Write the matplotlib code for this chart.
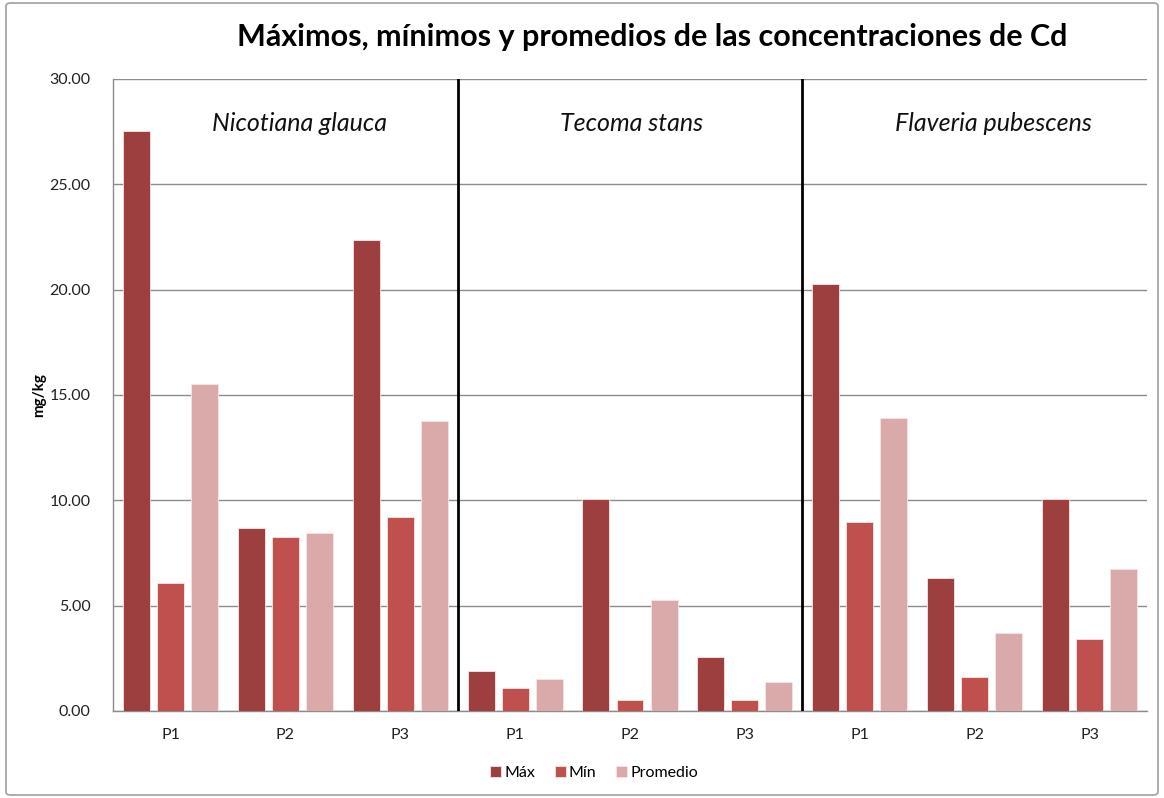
import matplotlib
matplotlib.use("Agg")
import matplotlib.pyplot as plt
from matplotlib.patches import FancyBboxPatch
import numpy as np

plt.rcParams['font.family'] = ['Lato', 'DejaVu Sans']

species = ["Nicotiana glauca", "Tecoma stans", "Flaveria pubescens"]
points = ["P1", "P2", "P3"]
categories = points * 3

maximo = [27.55, 8.70, 22.35, 1.90, 10.05, 2.55, 20.27, 6.31, 10.06]
minimo = [6.08, 8.26, 9.21, 1.10, 0.52, 0.52, 8.97, 1.61, 3.43]
promedio = [15.52, 8.45, 13.76, 1.54, 5.27, 1.40, 13.91, 3.72, 6.72]

series_names = ["Máx", "Mín", "Promedio"]
colors = ["#9E3F3F", "#C0504D", "#DAA9A9"]

fig = plt.figure(figsize=(11.64, 7.98), dpi=100)
ax = fig.add_axes([113/1164, 1-711/798, (1147-113)/1164, (711-79)/798])

# outer border
fig.patches.append(FancyBboxPatch((6/1164, 3/798), 1152/1164, 792/798,
                                  boxstyle="round,pad=0,rounding_size=0.004",
                                  transform=fig.transFigure, fill=False,
                                  edgecolor="#A6A6A6", linewidth=1.3))

x = np.arange(len(categories))
w = 0.235
step = 0.296
for i, (vals, name, c) in enumerate(zip([maximo, minimo, promedio], series_names, colors)):
    ax.bar(x + (i-1)*step, vals, width=w, color=c, edgecolor="#F5E6E6",
           linewidth=0.6, label=name, zorder=3)

ax.set_xlim(-0.5, len(categories)-0.5)
ax.set_ylim(0, 30)
ax.set_yticks(np.arange(0, 30.01, 5))
ax.set_yticklabels([f"{v:.2f}" for v in np.arange(0, 30.01, 5)])
ax.set_xticks(x)
ax.set_xticklabels(categories)
ax.tick_params(axis='both', length=0, labelsize=11.5, labelcolor="#222222")
ax.tick_params(axis='y', pad=16)
ax.tick_params(axis='x', pad=12)
ax.grid(axis='y', color="#8C8C8C", linewidth=1.0, zorder=0)
for s in ["top", "right"]:
    ax.spines[s].set_visible(False)
ax.spines["left"].set_color("#8C8C8C")
ax.spines["bottom"].set_color("#8C8C8C")
ax.spines["left"].set_linewidth(1.0)
ax.spines["bottom"].set_linewidth(1.0)

# group dividers
for d in [2.5, 5.5]:
    ax.axvline(d, color="black", linewidth=2, zorder=4)

# species labels (centres in axes fraction)
label_pos = [(299-113)/1034, (632-113)/1034, (993-113)/1034]
for sp, px in zip(species, label_pos):
    ax.text(px, 27.9/30, sp, style='italic', fontsize=18,
            ha='center', va='center', color="#111111", transform=ax.transAxes)

ax.set_ylabel("mg/kg", fontsize=11, fontweight='bold')
ax.yaxis.set_label_coords(-0.0645, 0.5)

fig.text(652/1164, 1-37/798, "Máximos, mínimos y promedios de las concentraciones de Cd",
         fontsize=22, fontweight='bold', ha='center', va='center')

fig.legend(loc='center', bbox_to_anchor=(594/1164, 1-773/798), ncol=3, frameon=False,
           fontsize=11.5, handlelength=0.7, handleheight=0.7, handletextpad=0.2,
           columnspacing=1.2)

fig.savefig("out.png", dpi=100)
